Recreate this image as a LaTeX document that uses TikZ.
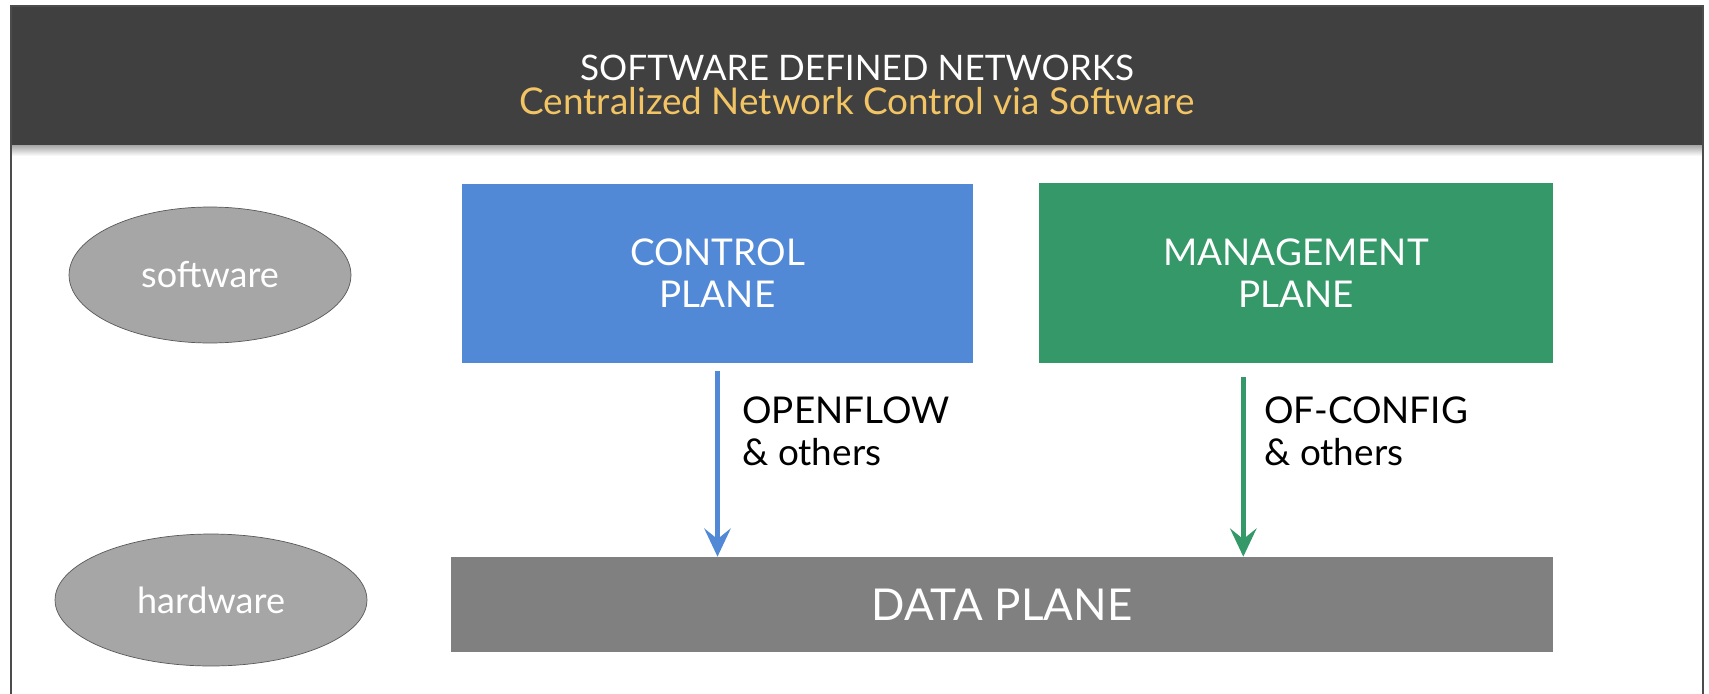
\documentclass[tikz,border=0pt]{standalone}
\usepackage{fontspec}
\setmainfont{Lato}
\usepackage{xcolor}
\usepackage{tikz}
\usetikzlibrary{arrows.meta,shapes.geometric}
\definecolor{headgray}{HTML}{404040}
\definecolor{subgold}{HTML}{F2C464}
\definecolor{ctrlblue}{HTML}{5289D6}
\definecolor{mgmtgreen}{HTML}{349868}
\definecolor{datagray}{HTML}{808080}
\definecolor{ovalgray}{HTML}{A6A6A6}
\newcommand{\fs}[1]{\fontsize{#1}{#1}\selectfont}

\begin{document}
\begin{tikzpicture}[x=0.02cm, y=-0.02cm,
    planebox/.style={rectangle, text=white, align=center, inner sep=0pt,
        font=\fontsize{21}{24}\selectfont},
    layeroval/.style={ellipse, draw=black!65, fill=ovalgray, text=white,
        inner sep=0pt, font=\fs{20.5}},
    protolabel/.style={anchor=north west, align=left, inner sep=0pt,
        font=\fontsize{21}{24}\selectfont},
    flow/.style={line width=2.6pt, -{Stealth[length=16pt, width=15pt, inset=6pt]}}]
        \useasboundingbox (0,0) rectangle (1709,693);
        \clip (0,0) rectangle (1709,693);

        % frame and header
        \fill[white] (11,6) rectangle (1703,720);
        \shade[top color=black!35, bottom color=white] (11,145) rectangle (1703,156);
        \fill[headgray] (11,6) rectangle (1703,145);
        \draw[black!70, line width=1.2pt] (11,6) rectangle (1703,720);

        \node[text=white, font=\fs{20}, anchor=base] (title) at (857, 80) {SOFTWARE DEFINED NETWORKS};
        \node[text=subgold, font=\fs{21}, anchor=base] (subtitle) at (857, 114) {Centralized Network Control via Software};

        % layers
        \node[layeroval, minimum width=5.64cm, minimum height=2.72cm] (sw) at (210, 275) {software};
        \node[layeroval, minimum width=6.24cm, minimum height=2.64cm] (hw) at (211, 600) {hardware};

        % planes
        \node[planebox, fill=ctrlblue, minimum width=10.22cm, minimum height=3.58cm] (ctrl) at (717.5, 273.5) {CONTROL\\PLANE};
        \node[planebox, fill=mgmtgreen, minimum width=10.28cm, minimum height=3.6cm] (mgmt) at (1296, 273) {MANAGEMENT\\PLANE};
        \node[planebox, fill=datagray, minimum width=22.04cm, minimum height=1.9cm, font=\fs{25}] (data) at (1002, 604.5) {DATA PLANE};

        % protocols
        \coordinate (of) at ([yshift=-4.5pt]ctrl.south);
        \coordinate (oc) at ([xshift=-30pt, yshift=-8pt]mgmt.south);
        \draw[flow, ctrlblue] (of) -- (of |- data.north);
        \draw[flow, mgmtgreen] (oc) -- (oc |- data.north);

        \node[protolabel] (oflabel) at (742, 396) {OPENFLOW\\\& others};
        \node[protolabel] (oclabel) at (1264, 396) {OF-CONFIG\\\& others};
    \end{tikzpicture}
\end{document}
